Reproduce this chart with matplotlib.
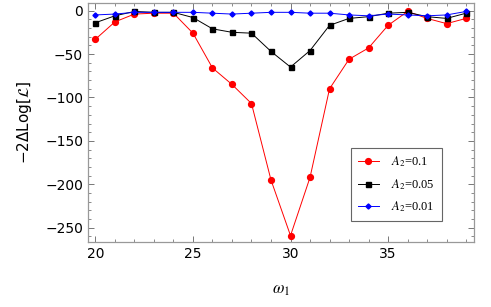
import numpy as np
import matplotlib
matplotlib.use("Agg")
import matplotlib.pyplot as plt
from matplotlib.ticker import MultipleLocator

plt.rcParams["mathtext.fontset"] = "stix"
plt.rcParams["font.family"] = ["DejaVu Sans"]

omega = list(range(20, 40))

# A2 = 0.1
red_vals = [-33, -13, -4, -3, -3, -26, -66, -85, -107, -195,
            -259, -192, -90, -56, -43, -17, -1, -9, -15, -9]
# A2 = 0.05
black_vals = [-14, -6, -1, -2, -2, -8, -21, -25, -26, -47,
              -65, -46, -17, -9, -7, -3, -2, -7, -9, -3]
# A2 = 0.01
blue_vals = [-5, -4, -2, -2, -2, -2, -3, -4, -3, -2,
             -2, -3, -3, -5, -6, -4, -5, -6, -5, -1]

labels = [r"$A_2$=0.1", r"$A_2$=0.05", r"$A_2$=0.01"]

fig = plt.figure(figsize=(4.91, 3.07), dpi=100)
ax = fig.add_axes([0.1792, 0.2127, 0.7868, 0.7763])

ax.plot(omega, red_vals, color="red", marker="o", markersize=4.2, lw=0.7, label=labels[0])
ax.plot(omega, black_vals, color="black", marker="s", markersize=3.6, lw=0.7, label=labels[1])
ax.plot(omega, blue_vals, color="blue", marker="D", markersize=2.6, lw=0.7, label=labels[2])

ax.set_xlim(19.62, 39.42)
ax.set_ylim(-266, 8.3)

ax.xaxis.set_major_locator(MultipleLocator(5))
ax.xaxis.set_minor_locator(MultipleLocator(1))
ax.yaxis.set_major_locator(MultipleLocator(50))
ax.yaxis.set_minor_locator(MultipleLocator(10))
ax.tick_params(which="both", direction="in", top=True, right=True,
               color="#777777", labelsize=10)
ax.tick_params(which="major", length=4, width=0.7)
ax.tick_params(which="minor", length=2.3, width=0.6)
for s in ax.spines.values():
    s.set_color("#999999")
    s.set_linewidth(0.9)

ax.set_yticks([0, -50, -100, -150, -200, -250])
ax.set_yticklabels(["0", "\u221250", "\u2212100", "\u2212150", "\u2212200", "\u2212250"])

ax.set_xlabel(r"$\omega_1$", fontsize=12, labelpad=14)
ax.set_ylabel("\u22122\u0394Log[$\\mathcal{L}$]", fontsize=11, labelpad=8)

leg = ax.legend(loc="lower right", bbox_to_anchor=(0.916, 0.087), borderaxespad=0,
                prop={"family": "Liberation Serif", "size": 9},
                fancybox=False, edgecolor="#666666", framealpha=1,
                borderpad=0.55, labelspacing=0.6, handlelength=1.7, handletextpad=1.0)
leg.get_frame().set_linewidth(0.8)

fig.savefig("out.png", dpi=100)
